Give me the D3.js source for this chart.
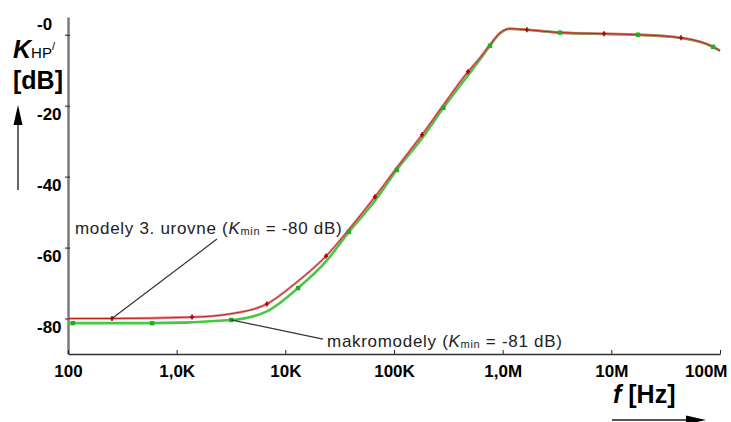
<!DOCTYPE html>
<html>
<head>
<meta charset="utf-8">
<script src="https://cdn.jsdelivr.net/npm/d3@7"></script>
<style>
    body { margin: 0; background: #fff; }
    svg { display: block; font-family: "Liberation Sans", Arial, sans-serif; }
</style>
</head>
<body>
<div id="chart"></div>
<script>

// frequency axis (Hz) and tick labels
var xTicks = [1e2, 1e3, 1e4, 1e5, 1e6, 1e7, 1e8];
var xLabels = ['100', '1,0K', '10K', '100K', '1,0M', '10M', '100M'];

var yTicks = [0, -20, -40, -60, -80];
var yLabels = ['-0', '-20', '-40', '-60', '-80'];

// modely 3. urovne (red)
var redFreq = [100, 254, 1385, 3090, 6760, 12800, 23700, 39400, 66800, 106000, 181000, 285000, 480000, 618000, 764000, 945000, 1170000, 1670000, 3370000, 8560000, 17600000, 43800000, 86300000, 100000000];
var redDb = [-80, -80, -79.6, -78.7, -75.9, -69.7, -62.4, -54.5, -45.7, -37.5, -28.2, -19.8, -10.4, -6.5, -2.8, 0.5, 1.7, 1.4, 0.6, 0.3, 0, -0.85, -3.4, -4.5];
var redMarkFreq = [254, 1385, 6760, 23700, 66800, 181000, 480000, 1670000, 8560000, 43800000];
var redMarkDb = [-80, -79.6, -75.9, -62.4, -45.7, -28.2, -10.4, 1.4, 0.3, -0.85];

// makromodely (green)
var greenFreq = [100, 111, 594, 3170, 6760, 13100, 23700, 38400, 66800, 106000, 181000, 285000, 480000, 618000, 764000, 945000, 1170000, 1670000, 3370000, 8560000, 17600000, 43800000, 86300000, 100000000];
var greenDb = [-81.3, -81.3, -81.3, -80.4, -78.0, -71.4, -63.9, -55.6, -46.8, -38.1, -29.2, -20.6, -11.4, -7.0, -3.1, 0.4, 1.7, 1.4, 0.6, 0.2, 0, -0.9, -3.4, -4.5];
var greenMarkFreq = [111, 594, 3170, 13100, 38400, 106000, 285000, 764000, 3370000, 17600000, 86300000];
var greenMarkDb = [-81.3, -81.3, -80.4, -71.4, -55.6, -38.1, -20.6, -3.1, 0.6, 0, -3.4];

function pairs(f, v) {
    return f.map(function(d, i) { return { f: d, db: v[i] }; });
}

function BodeChart(id) {

    var width = 731,
        height = 422;

    var svg = d3.select(id).append('svg')
        .attr('width', width)
        .attr('height', height);

    var x = d3.scaleLog().domain([1e2, 1e8]).range([68, 720]);
    var y = d3.scaleLinear().domain([-90, 5]).range([354, 17]);

    // axes
    var yAxis = d3.axisLeft(y)
        .tickValues(yTicks)
        .tickFormat(function(d, i) { return yLabels[i]; })
        .tickSizeOuter(0);

    var gy = svg.append('g')
        .attr('transform', 'translate(' + x.range()[0] + ',0)')
        .call(yAxis);

    gy.select('.domain').attr('stroke', '#7a7a7a').attr('stroke-width', 2.5);
    gy.selectAll('.tick line').attr('x1', 2).attr('x2', -3).attr('stroke', '#222');
    gy.selectAll('.tick text')
        .attr('x', 37 - 68)
        .attr('dy', null)
        .attr('y', function(d) { return d === 0 ? -5 : 14; })
        .attr('text-anchor', 'start')
        .attr('fill', '#000')
        .attr('font-size', 17)
        .attr('font-weight', 'bold')
        .attr('font-family', null);

    var xAxis = d3.axisBottom(x)
        .tickValues(xTicks)
        .tickFormat(function(d, i) { return xLabels[i]; })
        .tickSize(-4)
        .tickSizeOuter(0);

    var gx = svg.append('g')
        .attr('transform', 'translate(0,' + y(-90) + ')')
        .call(xAxis);

    gx.select('.domain').attr('stroke', '#333').attr('stroke-width', 1.5);
    gx.selectAll('.tick line').attr('stroke', '#222');
    gx.selectAll('.tick text')
        .attr('y', 23)
        .attr('dy', null)
        .attr('fill', '#000')
        .attr('font-size', 17)
        .attr('font-weight', 'bold')
        .attr('font-family', null)
        .filter(function(d) { return d === 1e8; })
        .attr('text-anchor', 'end')
        .attr('x', 7);

    // curves
    var line = d3.line()
        .x(function(d) { return x(d.f); })
        .y(function(d) { return y(d.db); })
        .curve(d3.curveMonotoneX);

    svg.append('path')
        .datum(pairs(greenFreq, greenDb))
        .attr('fill', 'none')
        .attr('stroke', '#46c846')
        .attr('stroke-width', 2.6)
        .attr('d', line);

    svg.append('path')
        .datum(pairs(redFreq, redDb))
        .attr('fill', 'none')
        .attr('stroke', '#d86a6a')
        .attr('stroke-opacity', 0.75)
        .attr('stroke-width', 2.6)
        .attr('d', line);

    svg.append('path')
        .datum(pairs(redFreq, redDb))
        .attr('fill', 'none')
        .attr('stroke', '#c22020')
        .attr('stroke-width', 1)
        .attr('d', line);

    // markers
    svg.append('g').selectAll('rect')
        .data(pairs(greenMarkFreq, greenMarkDb))
        .enter().append('rect')
        .attr('x', function(d) { return x(d.f) - 2.2; })
        .attr('y', function(d) { return y(d.db) - 2.2; })
        .attr('width', 4.4)
        .attr('height', 4.4)
        .attr('fill', '#1fb01f');

    svg.append('g').selectAll('path')
        .data(pairs(redMarkFreq, redMarkDb))
        .enter().append('path')
        .attr('transform', function(d) { return 'translate(' + x(d.f) + ',' + y(d.db) + ')'; })
        .attr('d', 'M-2,0H2M0,-2.5V2.5')
        .attr('stroke', '#b00000')
        .attr('stroke-width', 1.6);

    // annotations
    var notes = [
        { text: 'modely 3. urovne (', val: ' = -80 dB)', tx: 116, ty: -56.2,
          from: [254, -80], to: [2350, -57.6] },
        { text: 'makromodely (', val: ' =  -81 dB)', tx: 24200, ty: -88.0,
          from: [3170, -80.4], to: [22200, -85.8] }
    ];

    svg.append('g').selectAll('line')
        .data(notes)
        .enter().append('line')
        .attr('x1', function(d) { return x(d.from[0]); })
        .attr('y1', function(d) { return y(d.from[1]); })
        .attr('x2', function(d) { return x(d.to[0]); })
        .attr('y2', function(d) { return y(d.to[1]); })
        .attr('stroke', '#333')
        .attr('stroke-width', 1.2);

    var note = svg.append('g').selectAll('text')
        .data(notes)
        .enter().append('text')
        .attr('x', function(d) { return x(d.tx); })
        .attr('y', function(d) { return y(d.ty); })
        .attr('font-size', 17)
        .attr('letter-spacing', 0.7)
        .attr('fill', '#222');

    note.append('tspan').text(function(d) { return d.text; });
    note.append('tspan').attr('font-style', 'italic').text('K');
    note.append('tspan').attr('font-size', 11).attr('dy', 1).text('min');
    note.append('tspan').attr('dy', -1).text(function(d) { return d.val; });

    // axis titles
    var yt = svg.append('text')
        .attr('x', 13)
        .attr('y', 58)
        .attr('fill', '#000');
    yt.append('tspan').attr('font-size', 25).attr('font-weight', 'bold').attr('font-style', 'italic').text('K');
    yt.append('tspan').attr('font-size', 15).text('HP');
    yt.append('tspan').attr('font-size', 11).attr('dy', -8).text('/');

    svg.append('text')
        .attr('x', 13)
        .attr('y', 89)
        .attr('font-size', 25)
        .attr('font-weight', 'bold')
        .attr('fill', '#000')
        .text('[dB]');

    var xt = svg.append('text')
        .attr('x', 613)
        .attr('y', 403)
        .attr('font-size', 25)
        .attr('font-weight', 'bold')
        .attr('fill', '#000');
    xt.append('tspan').attr('font-style', 'italic').text('f');
    xt.append('tspan').text(' [Hz]');

    // arrows
    svg.append('line')
        .attr('x1', 18).attr('y1', 190).attr('x2', 18).attr('y2', 120)
        .attr('stroke', '#333').attr('stroke-width', 1.5);
    svg.append('path')
        .attr('d', 'M18,105L22.5,125L13.5,125Z')
        .attr('fill', '#000');

    svg.append('line')
        .attr('x1', 612).attr('y1', 420).attr('x2', 690).attr('y2', 420)
        .attr('stroke', '#555').attr('stroke-width', 2);
    svg.append('path')
        .attr('d', 'M706,420L686,415.5L686,424.5Z')
        .attr('fill', '#000');

} // BodeChart

BodeChart('#chart');

</script>
</body>
</html>
